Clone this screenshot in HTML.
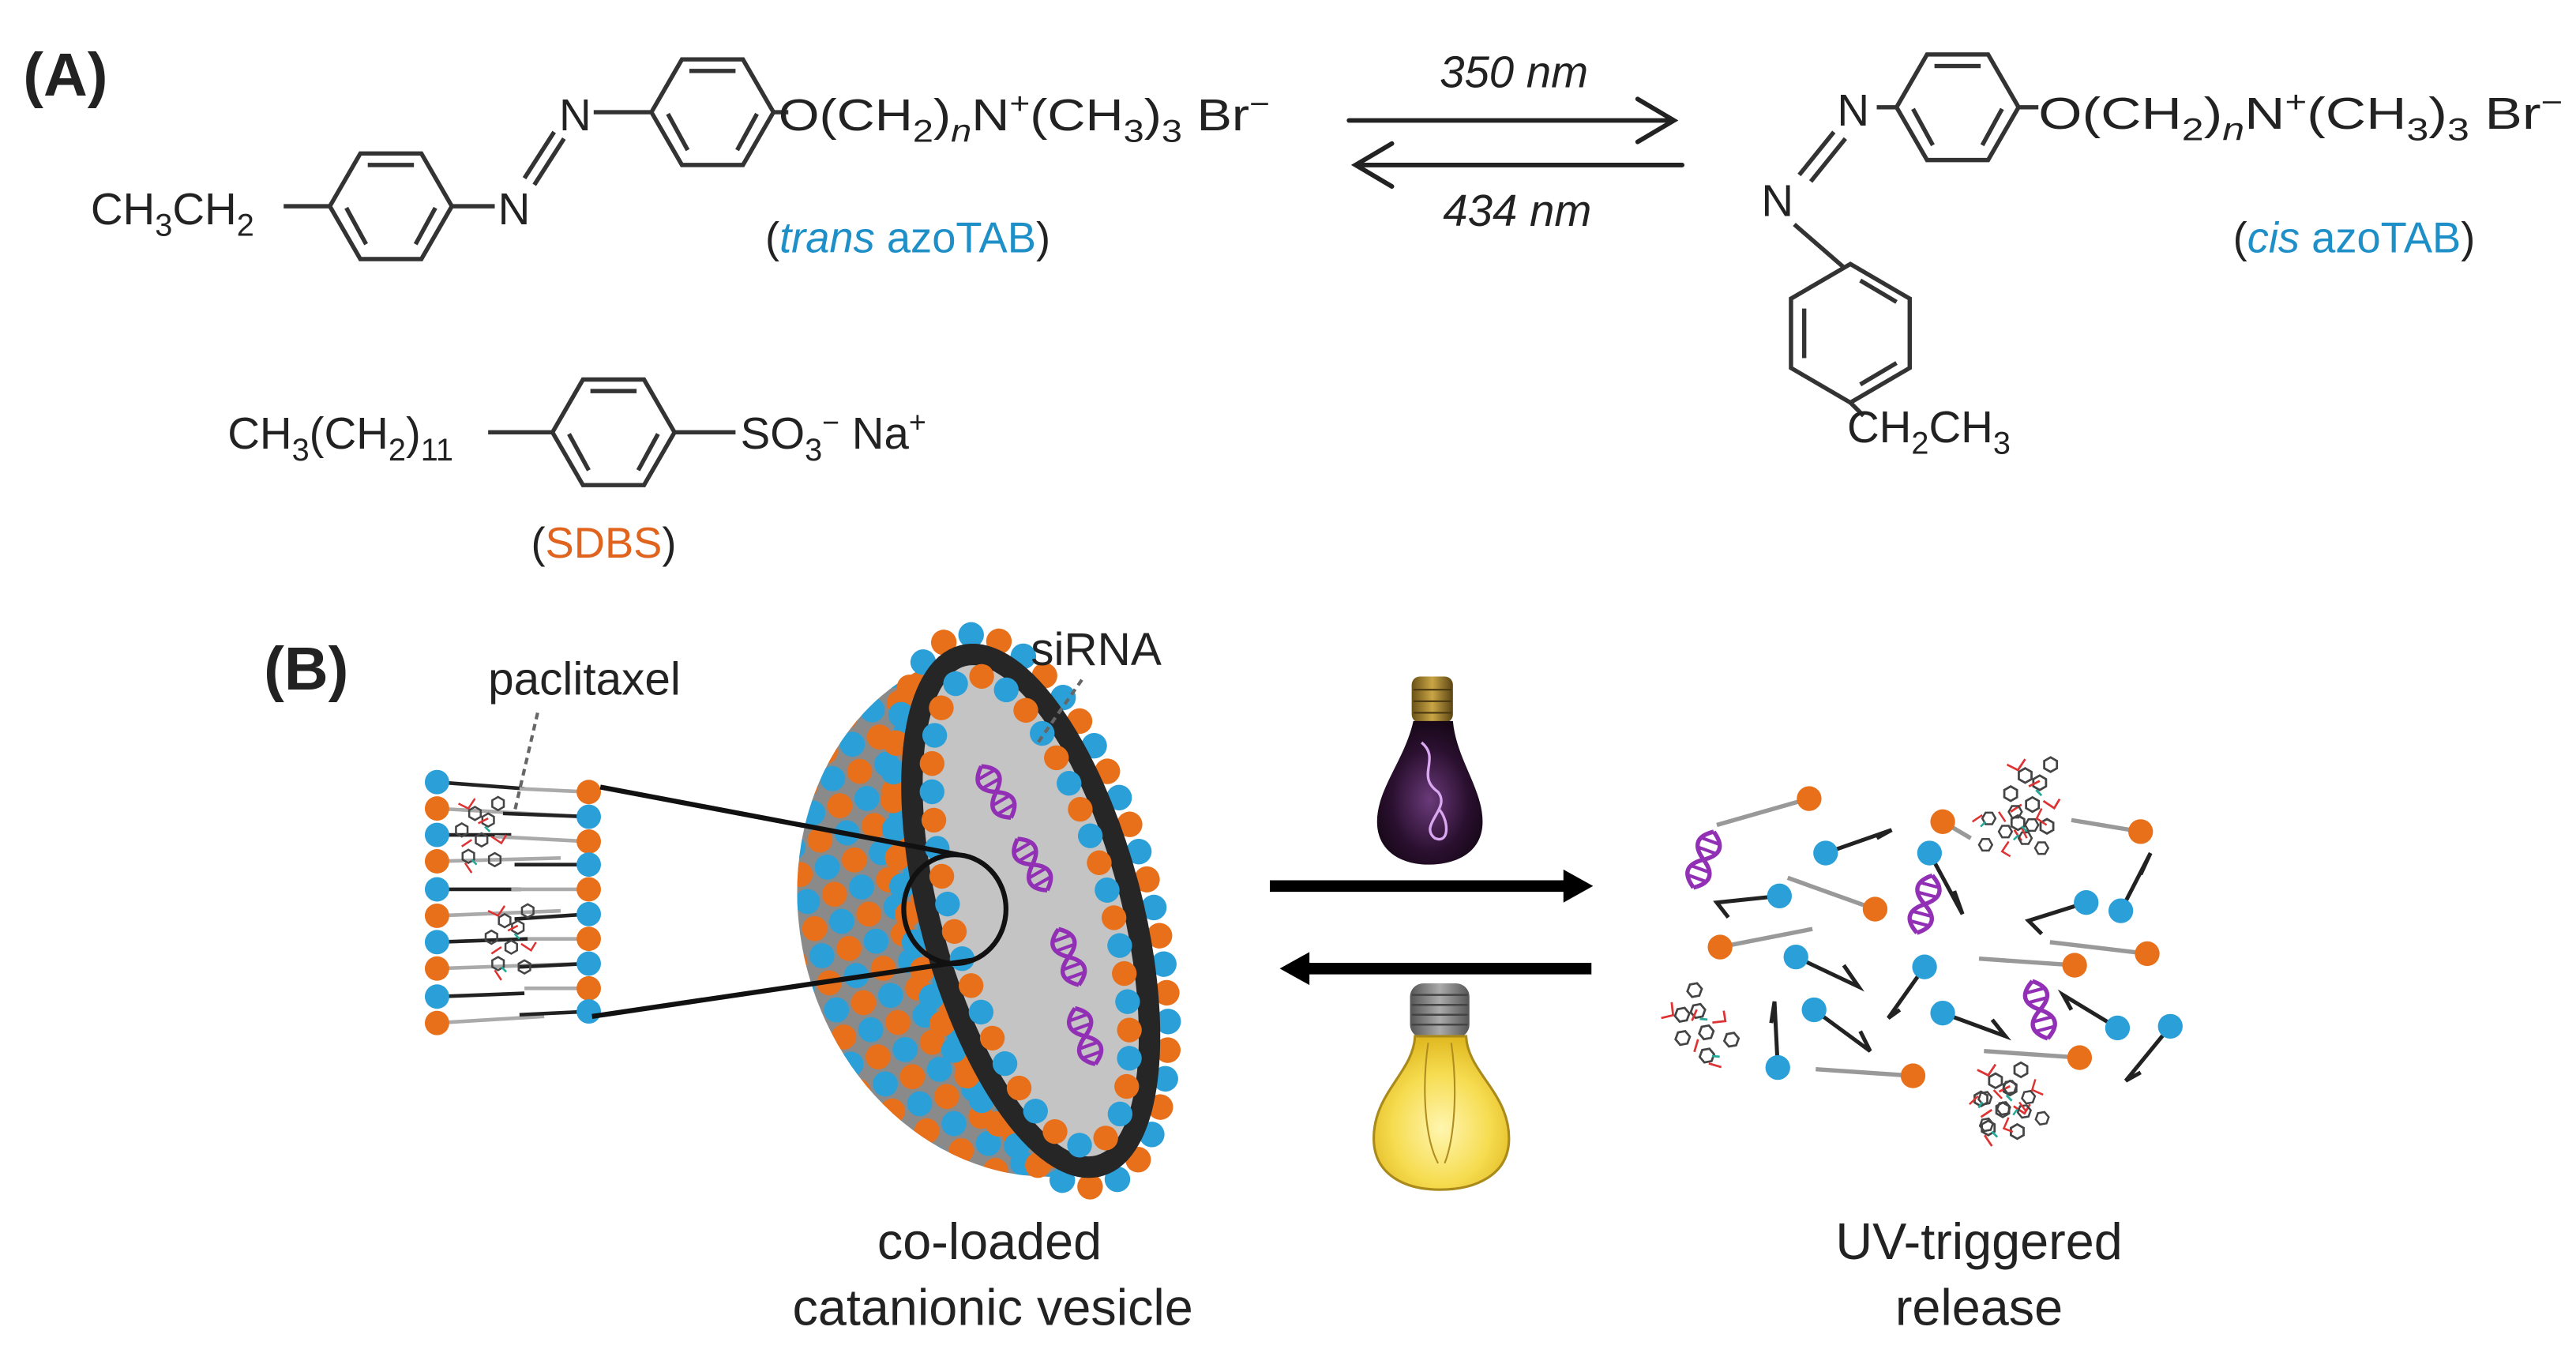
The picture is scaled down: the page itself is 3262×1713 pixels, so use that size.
<!DOCTYPE html>
<html><head><meta charset="utf-8"><style>
html,body{margin:0;padding:0;background:#fff;}
svg{display:block;}
text{font-family:"Liberation Sans",Arial,sans-serif;fill:#222;}
</style></head><body>
<svg width="3262" height="1713" viewBox="0 0 1562 820" preserveAspectRatio="none" xmlns="http://www.w3.org/2000/svg">
<defs>
<pattern id="balls" patternUnits="userSpaceOnUse" width="34" height="34" patternTransform="rotate(-15)">
<circle cx="8.5" cy="8.5" r="7.6" fill="#e8701a"/><circle cx="25.5" cy="8.5" r="7.6" fill="#2a9fd8"/>
<circle cx="8.5" cy="25.5" r="7.6" fill="#2a9fd8"/><circle cx="25.5" cy="25.5" r="7.6" fill="#e8701a"/>
</pattern>
<g id="dna" fill="none" stroke="#9230b5" stroke-width="2.6">
<path d="M0,-18 C9,-12 9,-6 0,0 C-9,6 -9,12 0,18"/>
<path d="M0,-18 C-9,-12 -9,-6 0,0 C9,6 9,12 0,18"/>
<path d="M-5,-12 H5 M-5,-6 H5 M-5,6 H5 M-5,12 H5" stroke-width="2"/>
</g>
<g id="ptx" fill="none" stroke-width="1.2">
<path stroke="#444" d="M0,-4 l3.5,2 v4 l-3.5,2 l-3.5,-2 v-4z M8,0 l3.5,2 v4 l-3.5,2 l-3.5,-2 v-4z M-8,6 l3.5,2 v4 l-3.5,2 l-3.5,-2 v-4z M4,12 l3.5,2 v4 l-3.5,2 l-3.5,-2 v-4z M14,-10 l3.5,2 v4 l-3.5,2 l-3.5,-2 v-4z M-4,22 l3.5,2 v4 l-3.5,2 l-3.5,-2 v-4z M12,24 l3.5,2 v4 l-3.5,2 l-3.5,-2 v-4z"/>
<path stroke="#d33" d="M-10,-6 l6,3 l4,-6 M2,6 l6,-3 M-2,16 l-6,4 M10,14 l6,4 l3,-5 M-6,30 l4,6"/>
<path stroke="#2a9" d="M6,8 l3,3 M-2,28 l3,3"/>
</g>
<radialGradient id="uvg" cx="50%" cy="55%" r="60%"><stop offset="0" stop-color="#6a3a7a"/><stop offset="0.6" stop-color="#2b1030"/><stop offset="1" stop-color="#120612"/></radialGradient>
<linearGradient id="gold" x1="0" x2="1"><stop offset="0" stop-color="#6a5218"/><stop offset="0.5" stop-color="#c9a545"/><stop offset="1" stop-color="#5a4414"/></linearGradient>
<linearGradient id="grey" x1="0" x2="1"><stop offset="0" stop-color="#555"/><stop offset="0.5" stop-color="#aaa"/><stop offset="1" stop-color="#555"/></linearGradient>
<radialGradient id="yel" cx="50%" cy="60%" r="60%"><stop offset="0" stop-color="#fff6b0"/><stop offset="0.6" stop-color="#f6dc50"/><stop offset="1" stop-color="#e0b820"/></radialGradient>
</defs>

<!-- (A) -->
<text x="14" y="58" font-size="37" font-weight="bold" fill="#111">(A)</text>

<g fill="none" stroke="#333" stroke-width="2.6">
<path d="M200,125 L218.5,93 L255.5,93 L274,125 L255.5,157 L218.5,157Z"/>
<path d="M223,100 H251 M264,126 L252,148 M210,126 L222,148"/>
<path d="M172,125 H200 M274,125 H300"/>
<path d="M318,108 L336,80 M324,112 L342,84"/>
<path d="M395,68 L413.5,36 L450.5,36 L469,68 L450.5,100 L413.5,100Z"/>
<path d="M418,43 H446 M459,69 L447,91 M405,69 L417,91"/>
<path d="M360,68 H395 M469,68 H478"/>
<path d="M335,262 L353.5,230 L390.5,230 L409,262 L390.5,294 L353.5,294Z"/>
<path d="M358,237 H386 M399,263 L387,285 M345,263 L357,285"/>
<path d="M296,262 H335 M409,262 H446"/>
<path d="M1150,65 L1168.5,33 L1205.5,33 L1224,65 L1205.5,97 L1168.5,97Z"/>
<path d="M1173,40 H1201 M1214,66 L1202,88 M1160,66 L1172,88"/>
<path d="M1138,65 H1150 M1224,65 H1236"/>
<path d="M1112,80 L1091,106 M1119,84 L1098,110"/>
<path d="M1122,160 L1158,181 L1158,223 L1122,244 L1086,223 L1086,181Z"/>
<path d="M1128,170 L1150,183 M1150,220 L1128,233 M1094,217 V187"/>
<path d="M1088,136 L1118,162 M1122,244 L1130,252"/>
</g>

<text x="55" y="136" font-size="27">CH<tspan font-size="19" dy="7">3</tspan><tspan dy="-7">CH</tspan><tspan font-size="19" dy="7">2</tspan></text>
<text x="302" y="136" font-size="27">N</text>
<text x="339" y="79" font-size="27">N</text>
<text x="472" y="79" font-size="27" textLength="298" lengthAdjust="spacingAndGlyphs">O(CH<tspan font-size="19" dy="7">2</tspan><tspan dy="-7">)</tspan><tspan font-size="19" dy="7" font-style="italic">n</tspan><tspan dy="-7">N</tspan><tspan font-size="18" dy="-10">+</tspan><tspan dy="10">(CH</tspan><tspan font-size="19" dy="7">3</tspan><tspan dy="-7">)</tspan><tspan font-size="19" dy="7">3</tspan><tspan dy="-7"> Br</tspan><tspan font-size="18" dy="-10">−</tspan></text>
<text x="464" y="153" font-size="26" fill="#333">(<tspan fill="#1f8fc8" font-style="italic">trans</tspan><tspan fill="#1f8fc8"> azoTAB</tspan>)</text>

<text x="138" y="272" font-size="27">CH<tspan font-size="19" dy="7">3</tspan><tspan dy="-7">(CH</tspan><tspan font-size="19" dy="7">2</tspan><tspan dy="-7">)</tspan><tspan font-size="19" dy="7">11</tspan></text>
<text x="449" y="272" font-size="27">SO<tspan font-size="19" dy="7">3</tspan><tspan font-size="18" dy="-17">−</tspan><tspan dy="10"> Na</tspan><tspan font-size="18" dy="-10">+</tspan></text>
<text x="322" y="338" font-size="26" fill="#333">(<tspan fill="#e0641e">SDBS</tspan>)</text>

<g fill="none" stroke="#222" stroke-width="2.8" stroke-linecap="round">
<path d="M818,73 H1015 M993,60 L1015,73 L993,86"/>
<path d="M1020,100 H822 M844,87 L822,100 L844,113"/>
</g>
<text x="918" y="53" font-size="27" font-style="italic" text-anchor="middle">350 nm</text>
<text x="920" y="137" font-size="27" font-style="italic" text-anchor="middle">434 nm</text>

<text x="1114" y="76" font-size="27">N</text>
<text x="1068" y="131" font-size="27">N</text>
<text x="1236" y="78" font-size="27" textLength="318" lengthAdjust="spacingAndGlyphs">O(CH<tspan font-size="19" dy="7">2</tspan><tspan dy="-7">)</tspan><tspan font-size="19" dy="7" font-style="italic">n</tspan><tspan dy="-7">N</tspan><tspan font-size="18" dy="-10">+</tspan><tspan dy="10">(CH</tspan><tspan font-size="19" dy="7">3</tspan><tspan dy="-7">)</tspan><tspan font-size="19" dy="7">3</tspan><tspan dy="-7"> Br</tspan><tspan font-size="18" dy="-10">−</tspan></text>
<text x="1120" y="268" font-size="27">CH<tspan font-size="19" dy="7">2</tspan><tspan dy="-7">CH</tspan><tspan font-size="19" dy="7">3</tspan></text>
<text x="1354" y="153" font-size="26" fill="#333">(<tspan fill="#1f8fc8" font-style="italic">cis</tspan><tspan fill="#1f8fc8"> azoTAB</tspan>)</text>

<!-- (B) -->
<text x="160" y="418" font-size="37" font-weight="bold" fill="#111">(B)</text>
<text x="296" y="421" font-size="28">paclitaxel</text>
<path d="M326,432 L312,492" stroke="#666" stroke-width="2" stroke-dasharray="4,3" fill="none"/>

<!-- bilayer -->
<g stroke-width="2.2">
<path stroke="#222" d="M265,474 L318,478 M265,506 L310,506 M265,539 L316,539 M265,571 L320,569 M265,604 L318,602"/>
<path stroke="#aaa" d="M265,490 L355,495 M265,522 L340,520 M265,555 L340,552 M265,587 L352,584 M265,620 L330,616"/>
<path stroke="#aaa" d="M357,480 L315,478 M357,510 L300,507 M357,539 L310,539 M357,569 L320,569 M357,599 L318,599"/>
<path stroke="#222" d="M357,495 L305,493 M357,524 L312,524 M357,554 L312,557 M357,584 L315,586 M357,613 L315,615"/>
</g>
<use href="#ptx" x="288" y="493"/>
<use href="#ptx" x="306" y="558"/>
<g>
<circle cx="265" cy="474" r="7.4" fill="#2a9fd8"/><circle cx="265" cy="490" r="7.4" fill="#e8701a"/>
<circle cx="265" cy="506" r="7.4" fill="#2a9fd8"/><circle cx="265" cy="522" r="7.4" fill="#e8701a"/>
<circle cx="265" cy="539" r="7.4" fill="#2a9fd8"/><circle cx="265" cy="555" r="7.4" fill="#e8701a"/>
<circle cx="265" cy="571" r="7.4" fill="#2a9fd8"/><circle cx="265" cy="587" r="7.4" fill="#e8701a"/>
<circle cx="265" cy="604" r="7.4" fill="#2a9fd8"/><circle cx="265" cy="620" r="7.4" fill="#e8701a"/>
<circle cx="357" cy="480" r="7.4" fill="#e8701a"/><circle cx="357" cy="495" r="7.4" fill="#2a9fd8"/>
<circle cx="357" cy="510" r="7.4" fill="#e8701a"/><circle cx="357" cy="524" r="7.4" fill="#2a9fd8"/>
<circle cx="357" cy="539" r="7.4" fill="#e8701a"/><circle cx="357" cy="554" r="7.4" fill="#2a9fd8"/>
<circle cx="357" cy="569" r="7.4" fill="#e8701a"/><circle cx="357" cy="584" r="7.4" fill="#2a9fd8"/>
<circle cx="357" cy="599" r="7.4" fill="#e8701a"/><circle cx="357" cy="613" r="7.4" fill="#2a9fd8"/>
</g>

<!-- vesicle -->
<path d="M583,396 A140 162 -15 0 0 667,709 Z" fill="#8a8a8a"/>
<path d="M583,396 A140 162 -15 0 0 667,709 Z" fill="url(#balls)"/>
<g transform="rotate(-15 625 552)">
<ellipse cx="625" cy="552" rx="73" ry="172" fill="none" stroke="#e8701a" stroke-width="15.5" stroke-linecap="round" stroke-dasharray="0 2" pathLength="46"/>
<ellipse cx="625" cy="552" rx="73" ry="172" fill="none" stroke="#2a9fd8" stroke-width="15.5" stroke-linecap="round" stroke-dasharray="0 2" stroke-dashoffset="1" pathLength="46"/>
<ellipse cx="625" cy="552" rx="61" ry="160" fill="#c4c4c4" stroke="#262626" stroke-width="13"/>
<ellipse cx="625" cy="552" rx="48" ry="147" fill="none" stroke="#2a9fd8" stroke-width="15" stroke-linecap="round" stroke-dasharray="0 2" pathLength="38"/>
<ellipse cx="625" cy="552" rx="48" ry="147" fill="none" stroke="#e8701a" stroke-width="15" stroke-linecap="round" stroke-dasharray="0 2" stroke-dashoffset="1" pathLength="38"/>
</g>
<use href="#dna" transform="translate(604,480) rotate(-30)"/>
<use href="#dna" transform="translate(626,524) rotate(-30)"/>
<use href="#dna" transform="translate(648,580) rotate(-20)"/>
<use href="#dna" transform="translate(658,628) rotate(-20)"/>
<g fill="none" stroke="#111" stroke-width="3">
<path d="M364,477 L581,518 M359,616 L589,582"/>
<ellipse cx="579" cy="551" rx="31" ry="33"/>
</g>
<text x="625" y="403" font-size="28">siRNA</text>
<path d="M656,412 L628,452" stroke="#666" stroke-width="2" stroke-dasharray="4,3" fill="none"/>

<!-- bulbs -->
<rect x="856" y="410" width="25" height="28" rx="5" fill="url(#gold)"/>
<path d="M857,418 H880 M857,425 H880 M857,432 H880" stroke="#4a3810" stroke-width="1"/>
<path d="M857,437 C852,460 835,478 835,498 C835,516 850,524 866,524 C884,524 899,516 899,498 C899,478 883,460 881,437 Z" fill="url(#uvg)"/>
<path d="M862,450 C874,460 858,470 872,480 C880,490 860,500 870,508 C880,512 878,495 872,490" stroke="#d9a8f0" stroke-width="1.6" fill="none"/>
<rect x="855" y="596" width="36" height="33" rx="8" fill="url(#grey)"/>
<path d="M856,603 H890 M856,609 H890 M856,615 H890 M856,621 H890" stroke="#444" stroke-width="1.2"/>
<path d="M858,628 C857,650 833,662 833,690 C833,712 852,721 873,721 C895,721 915,712 915,690 C915,662 890,650 889,628 Z" fill="url(#yel)" stroke="#a98a1a" stroke-width="1.5"/>
<path d="M866,632 C862,660 864,690 872,705 M880,632 C884,660 882,690 876,705" stroke="#b08d20" stroke-width="1" fill="none"/>

<!-- thick arrows -->
<path d="M770,537 H952" stroke="#000" stroke-width="7"/>
<path d="M948,527 L966,537 L948,547Z" fill="#000"/>
<path d="M965,587 H790" stroke="#000" stroke-width="7"/>
<path d="M794,577 L776,587 L794,597Z" fill="#000"/>

<!-- release scatter -->
<g stroke="#999" stroke-width="2.6" fill="none">
<path d="M1097,484 L1041,500 M1178,498 L1195,508 M1298,504 L1256,497 M1137,551 L1084,532 M1043,574 L1099,563 M1258,585 L1200,581 M1302,578 L1243,571 M1160,652 L1101,648 M1261,641 L1203,637"/>
</g>
<g stroke="#222" stroke-width="2.4" fill="none">
<path d="M1107,517 L1147,503 L1138,508"/>
<path d="M1170,517 L1190,554 L1185,540"/>
<path d="M1079,543 L1041,547 L1048,556"/>
<path d="M1265,547 L1230,558 L1238,566"/>
<path d="M1286,552 L1304,517 L1298,530"/>
<path d="M1089,580 L1127,598 L1118,585"/>
<path d="M1167,586 L1145,617 L1152,612"/>
<path d="M1100,612 L1134,637 L1128,625"/>
<path d="M1178,614 L1216,628 L1208,618"/>
<path d="M1284,623 L1251,603 L1256,612"/>
<path d="M1316,622 L1289,655 L1298,650"/>
<path d="M1078,647 L1076,607 L1074,620"/>
</g>
<g fill="#e8701a">
<circle cx="1097" cy="484" r="7.5"/><circle cx="1178" cy="498" r="7.5"/><circle cx="1298" cy="504" r="7.5"/>
<circle cx="1137" cy="551" r="7.5"/><circle cx="1043" cy="574" r="7.5"/><circle cx="1258" cy="585" r="7.5"/>
<circle cx="1302" cy="578" r="7.5"/><circle cx="1160" cy="652" r="7.5"/><circle cx="1261" cy="641" r="7.5"/>
</g>
<g fill="#2a9fd8">
<circle cx="1107" cy="517" r="7.5"/><circle cx="1170" cy="517" r="7.5"/><circle cx="1079" cy="543" r="7.5"/>
<circle cx="1265" cy="547" r="7.5"/><circle cx="1286" cy="552" r="7.5"/><circle cx="1089" cy="580" r="7.5"/>
<circle cx="1167" cy="586" r="7.5"/><circle cx="1100" cy="612" r="7.5"/><circle cx="1178" cy="614" r="7.5"/>
<circle cx="1284" cy="623" r="7.5"/><circle cx="1316" cy="622" r="7.5"/><circle cx="1078" cy="647" r="7.5"/>
</g>
<use href="#dna" transform="translate(1033,521) rotate(20)"/>
<use href="#dna" transform="translate(1167,548) rotate(15)"/>
<use href="#dna" transform="translate(1237,612) rotate(-15)"/>
<use href="#ptx" transform="translate(1228,470) scale(1.1)"/>
<use href="#ptx" transform="translate(1232,500) scale(1.0) rotate(90)"/>
<use href="#ptx" transform="translate(1020,615) scale(1.1) rotate(-40)"/>
<use href="#ptx" transform="translate(1210,655) scale(1.1)"/>
<use href="#ptx" transform="translate(1230,665) rotate(80)"/>

<text x="600" y="763" font-size="31" text-anchor="middle">co-loaded</text>
<text x="602" y="803" font-size="31" text-anchor="middle">catanionic vesicle</text>
<text x="1200" y="763" font-size="31" text-anchor="middle">UV-triggered</text>
<text x="1200" y="803" font-size="31" text-anchor="middle">release</text>
</svg>
</body></html>
